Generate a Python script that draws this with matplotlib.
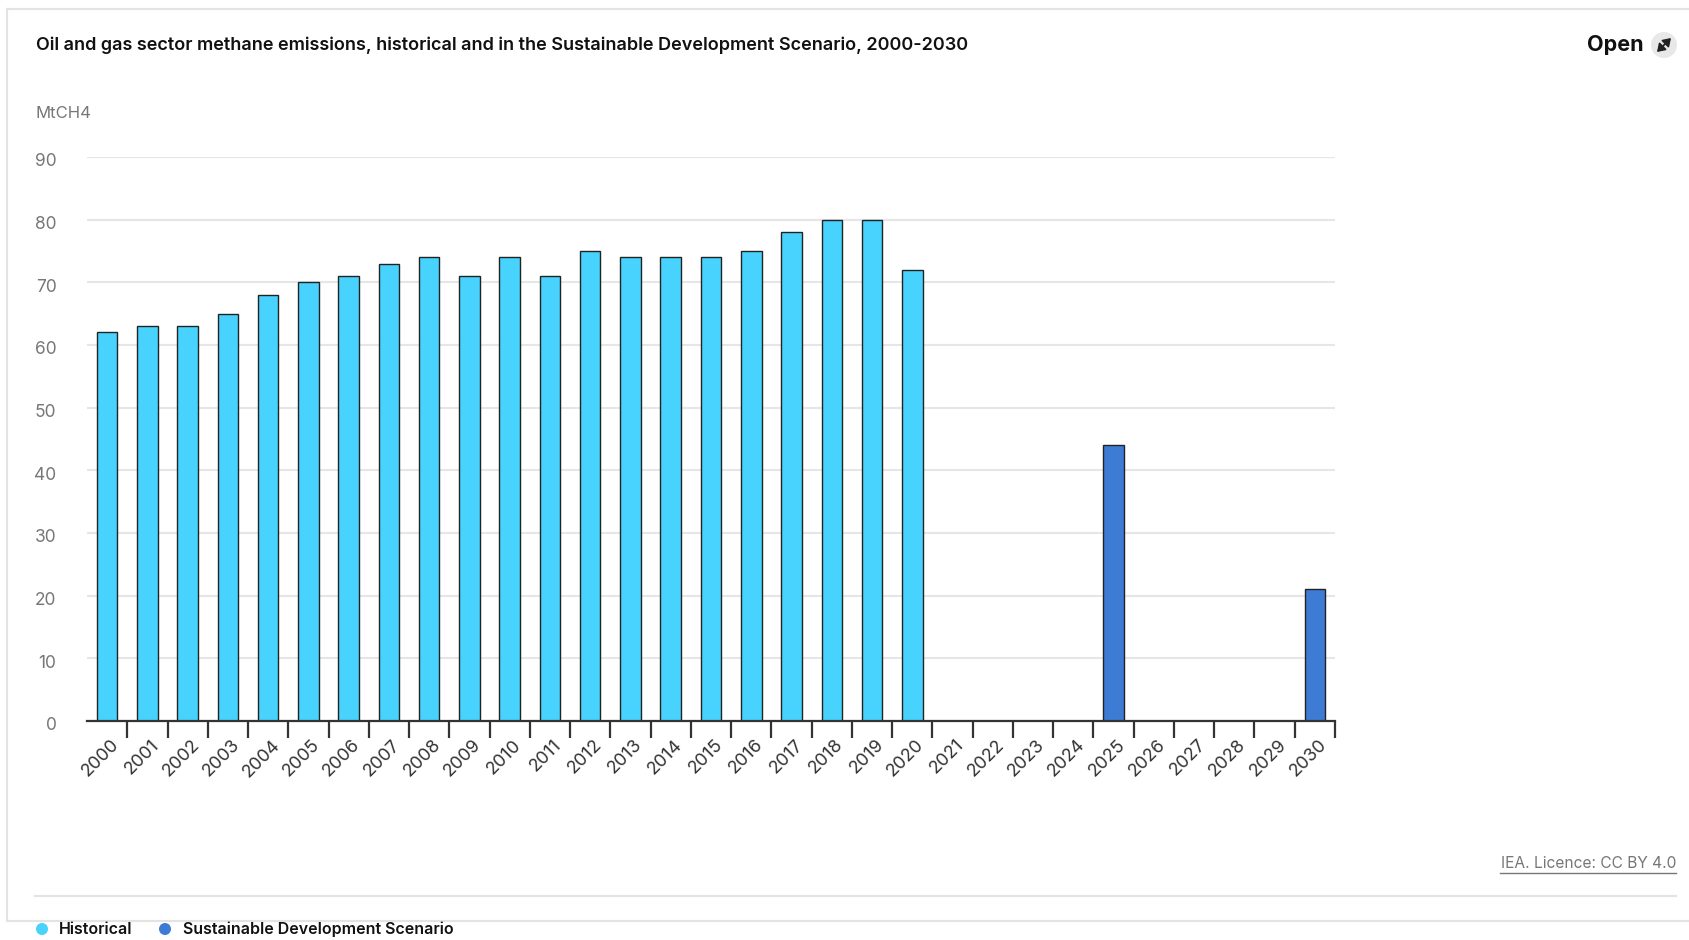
import numpy as np
import matplotlib
matplotlib.use("Agg")
import matplotlib.pyplot as plt
import matplotlib.patches as patches
import matplotlib.transforms as mtransforms
from matplotlib.lines import Line2D

plt.rcParams['font.family'] = ['Inter', 'DejaVu Sans']

years = [str(y) for y in range(2000, 2031)]
hist_years = list(range(2000, 2021))
hist_vals = [62, 63, 63, 65, 68, 70, 71, 73, 74, 71, 74, 71, 75, 74, 74, 74, 75, 78, 80, 80, 72]
sds_years = [2025, 2030]
sds_vals = [44, 21]

HIST_COL = '#47d3fd'
SDS_COL = '#3e7bd4'

W, H = 1690, 940
fig = plt.figure(figsize=(W / 100, H / 100), dpi=100)

def fx(px):
    return px / W

def fy(py):
    return 1 - py / H

# card frame
fig.add_artist(Line2D([fx(7), 1], [fy(9), fy(9)], color='#e3e3e3', lw=1.5))
fig.add_artist(Line2D([fx(7), fx(7)], [fy(9), fy(921)], color='#e3e3e3', lw=1.5))
fig.add_artist(Line2D([fx(7), 1], [fy(921), fy(921)], color='#e3e3e3', lw=1.5))
fig.add_artist(Line2D([fx(35), fx(1676)], [fy(896), fy(896)], color='#e3e3e3', lw=1.5))

ax = fig.add_axes([fx(87), fy(721), fx(1335) - fx(87), fy(157) - fy(721)])

x_hist = [y - 2000 for y in hist_years]
x_sds = [y - 2000 for y in sds_years]
ax.bar(x_hist, hist_vals, width=0.51, color=HIST_COL, edgecolor='#222222', linewidth=1.0, zorder=3)
ax.bar(x_sds, sds_vals, width=0.51, color=SDS_COL, edgecolor='#222222', linewidth=1.0, zorder=3)

ax.set_xlim(-0.5, len(years) - 0.5)
ax.set_ylim(0, 90)
ax.set_yticks(np.arange(0, 91, 10))
ax.yaxis.grid(True, color='#e6e6e6', lw=1.5, zorder=0)
ax.tick_params(axis='y', length=0, pad=22, labelsize=12.5, labelcolor='#777777')
shift_down = mtransforms.ScaledTranslation(0, -3 / 100, fig.dpi_scale_trans)
for lab in ax.get_yticklabels():
    lab.set_transform(lab.get_transform() + shift_down)

ax.set_xticks(np.arange(0.5, len(years), 1.0))
ax.set_xticklabels([])
ax.tick_params(axis='x', which='major', length=12, width=1.6, color='#333333', direction='out')
ax.set_xticks(np.arange(len(years)), minor=True)
ax.set_xticklabels(years, minor=True, rotation=45, ha='right', va='top',
                   rotation_mode='anchor', fontsize=13, color='#333333')
ax.tick_params(axis='x', which='minor', length=0, pad=11)
shift_right = mtransforms.ScaledTranslation(3 / 100, 0, fig.dpi_scale_trans)
for lab in ax.get_xticklabels(minor=True):
    lab.set_transform(lab.get_transform() + shift_right)

for s in ['top', 'right', 'left']:
    ax.spines[s].set_visible(False)
ax.spines['bottom'].set_color('#333333')
ax.spines['bottom'].set_linewidth(1.6)
ax.spines['bottom'].set_zorder(4)

# texts
fig.text(fx(36), fy(45), 'Oil and gas sector methane emissions, historical and in the Sustainable Development Scenario, 2000-2030',
         fontsize=13, fontweight='semibold', color='#111111', va='center', ha='left')
fig.text(fx(36), fy(113), 'MtCH4', fontsize=12, color='#777777', va='center', ha='left')

fig.text(fx(1644), fy(45), 'Open', fontsize=15.5, fontweight='bold', color='#111111', va='center', ha='right')
fig.add_artist(patches.Ellipse((fx(1664), fy(45)), width=26 / W, height=26 / H, transform=fig.transFigure,
                               facecolor='#e8e8e8', edgecolor='none'))
fig.add_artist(patches.FancyArrowPatch((fx(1657), fy(52)), (fx(1671), fy(38)), transform=fig.transFigure,
                                       arrowstyle='<|-|>,head_length=4.5,head_width=3', mutation_scale=1,
                                       shrinkA=0, shrinkB=0, color='#222222', lw=1.3))

fig.text(fx(1676), fy(864), 'IEA. Licence: CC BY 4.0', fontsize=11.2, color='#777777',
         va='center', ha='right')
fig.add_artist(Line2D([fx(1500), fx(1676)], [fy(873), fy(873)], color='#777777', lw=1))

# legend
fig.add_artist(patches.Ellipse((fx(42), fy(929)), width=12 / W, height=12 / H, transform=fig.transFigure,
                               facecolor=HIST_COL, edgecolor='none'))
fig.text(fx(59), fy(929), 'Historical', fontsize=11.5, fontweight='semibold', color='#111111', va='center')
fig.add_artist(patches.Ellipse((fx(165), fy(929)), width=12 / W, height=12 / H, transform=fig.transFigure,
                               facecolor=SDS_COL, edgecolor='none'))
fig.text(fx(183), fy(929), 'Sustainable Development Scenario', fontsize=11.5, fontweight='semibold',
         color='#111111', va='center')

fig.savefig('out.png', dpi=100)
